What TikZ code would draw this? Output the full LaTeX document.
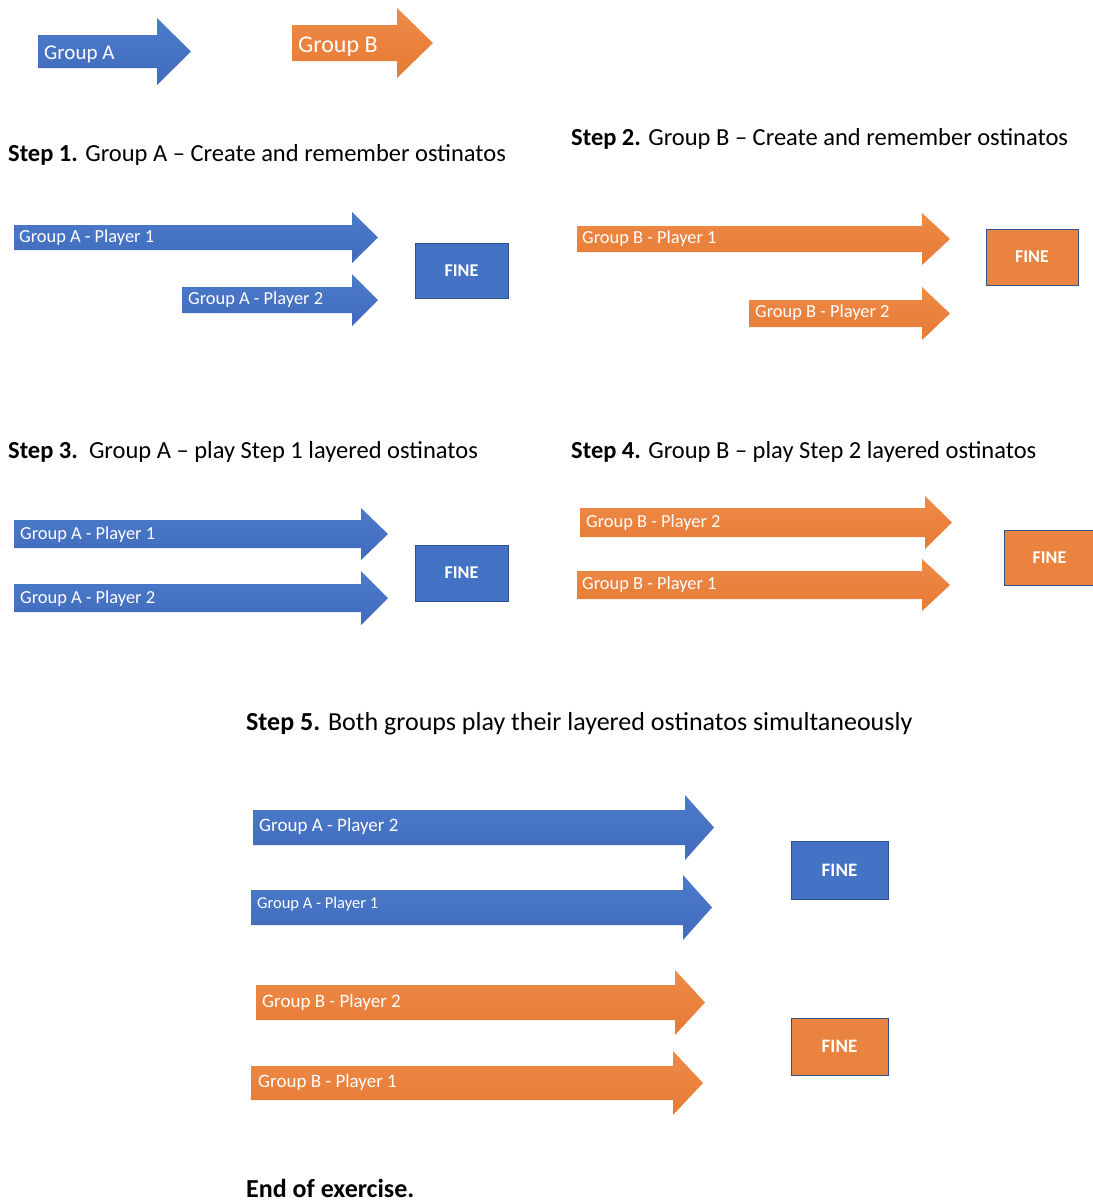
\documentclass[tikz,border=0pt]{standalone}
\usepackage{fontspec}
\setmainfont{Carlito}
\definecolor{groupblue}{HTML}{4472C4}
\definecolor{bluetop}{HTML}{4C7BCB}
\definecolor{bluebot}{HTML}{416BBD}
\definecolor{orangetop}{HTML}{EE8A48}
\definecolor{orangebot}{HTML}{E67B34}
\definecolor{grouporange}{HTML}{EA8240}
\definecolor{finerim}{HTML}{2F528F}

% block arrow: style, left x, body top, body bottom, head back x, tip x, head overhang
\newcommand{\blockarrow}[7]{%
  \path[#1] (#2,#3) -- (#5,#3) -- (#5,#3-#7) -- (#6,{(#3+#4)/2})
    -- (#5,#4+#7) -- (#5,#4) -- (#2,#4) -- cycle;}

\begin{document}
\begin{tikzpicture}[x=1pt,y=-1pt,
  arrowA/.style={top color=bluetop, bottom color=bluebot},
  arrowB/.style={top color=orangetop, bottom color=orangebot},
  lbl/.style={anchor=base west, inner sep=0pt, text=white,
    font=\fontsize{18.4}{20}\selectfont},
  title/.style={anchor=base west, inner sep=0pt,
    font=\fontsize{24.5}{28}\selectfont},
  finebox/.style={draw=finerim, line width=1pt, text=white, inner sep=0pt,
    font=\fontsize{18}{20}\selectfont\bfseries},
  fineA/.style={finebox, fill=groupblue},
  fineB/.style={finebox, fill=grouporange}]
\useasboundingbox (0,0) rectangle (1093,1203);

% legend
\blockarrow{arrowA}{38}{35}{68}{157}{191}{17}
\node[lbl, font=\fontsize{21}{24}\selectfont] (legA) at (44,59) {Group A};
\blockarrow{arrowB}{292}{25}{61}{397}{433}{17}
\node[lbl, font=\fontsize{24}{26}\selectfont] (legB) at (298,52) {Group B};

% step 1
\node[title] (t1) at (8,161) {\textbf{Step 1.} Group A – Create and remember ostinatos};
\blockarrow{arrowA}{14}{225}{250}{352}{378}{13}
\node[lbl] (s1a1) at (19,242) {Group A - Player 1};
\blockarrow{arrowA}{182}{287}{313}{352}{378}{13}
\node[lbl] (s1a2) at (188,304) {Group A - Player 2};
\node[fineA, minimum width=93, minimum height=55] (fine1) at (461.5,270.5) {FINE};

% step 2
\node[title] (t2) at (571,145) {\textbf{Step 2.} Group B – Create and remember ostinatos};
\blockarrow{arrowB}{577}{226}{252}{922}{950}{13}
\node[lbl] (s2b1) at (582,243) {Group B - Player 1};
\blockarrow{arrowB}{749}{300}{327}{922}{950}{13}
\node[lbl] (s2b2) at (755,317) {Group B - Player 2};
\node[fineB, minimum width=92, minimum height=56] (fine2) at (1032,257) {FINE};

% step 3
\node[title] (t3) at (8,458) {\textbf{Step 3.}\ \ Group A – play Step 1 layered ostinatos};
\blockarrow{arrowA}{14}{520}{548}{361}{388}{12}
\node[lbl] (s3a1) at (20,539) {Group A - Player 1};
\blockarrow{arrowA}{14}{584}{612}{361}{388}{13}
\node[lbl] (s3a2) at (20,603) {Group A - Player 2};
\node[fineA, minimum width=93, minimum height=56] (fine3) at (461.5,573) {FINE};

% step 4
\node[title] (t4) at (571,458) {\textbf{Step 4.} Group B – play Step 2 layered ostinatos};
\blockarrow{arrowB}{580}{508}{537}{925}{952}{12}
\node[lbl] (s4b2) at (586,527) {Group B - Player 2};
\blockarrow{arrowB}{577}{571}{599}{922}{950}{12}
\node[lbl] (s4b1) at (582,589) {Group B - Player 1};
\node[fineB, minimum width=91, minimum height=55] (fine4) at (1049.5,557.5) {FINE};

% step 5
\node[title, font=\fontsize{26}{30}\selectfont] (t5) at (246,730) {\textbf{Step 5.} Both groups play their layered ostinatos simultaneously};
\blockarrow{arrowA}{253}{810}{845}{685}{714}{15}
\node[lbl, font=\fontsize{19}{21}\selectfont] (s5a2) at (259,831) {Group A - Player 2};
\blockarrow{arrowA}{251}{890}{925}{683}{712}{15}
\node[lbl, font=\fontsize{16.5}{18}\selectfont] (s5a1) at (257,908) {Group A - Player 1};
\blockarrow{arrowB}{256}{985}{1020}{675}{705}{15}
\node[lbl, font=\fontsize{19}{21}\selectfont] (s5b2) at (262,1007) {Group B - Player 2};
\blockarrow{arrowB}{251}{1066}{1100}{673}{703}{15}
\node[lbl, font=\fontsize{19}{21}\selectfont] (s5b1) at (258,1087) {Group B - Player 1};
\node[fineA, minimum width=97, minimum height=58, font=\fontsize{19}{21}\selectfont\bfseries] (fine5a) at (839.5,870) {FINE};
\node[fineB, minimum width=97, minimum height=57, font=\fontsize{19}{21}\selectfont\bfseries] (fine5b) at (839.5,1046.5) {FINE};

\node[title, font=\fontsize{26}{30}\selectfont] (end) at (246,1197) {\textbf{End of exercise.}};
\end{tikzpicture}
\end{document}
